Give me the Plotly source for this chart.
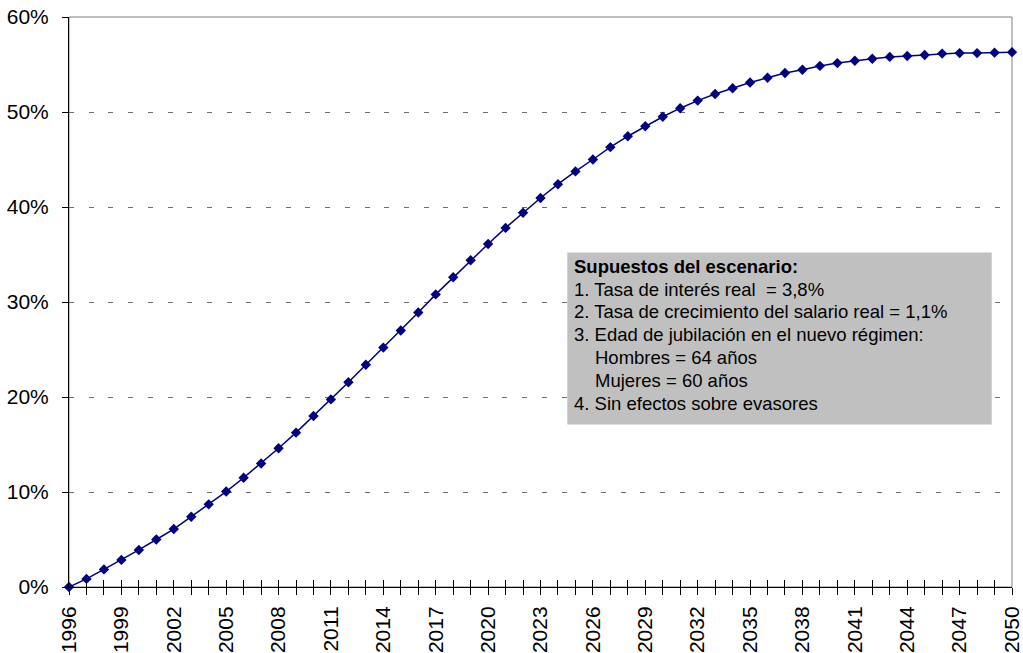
import plotly.graph_objects as go

years = list(range(1996, 2051))
values = [
    0.0, 0.85, 1.85, 2.85, 3.9, 5.0, 6.1, 7.4, 8.7, 10.05,
    11.5, 13.0, 14.6, 16.25, 18.0, 19.75, 21.55, 23.4, 25.2, 27.0,
    28.9, 30.8, 32.6, 34.4, 36.1, 37.8, 39.4, 40.95, 42.4, 43.75,
    45.0, 46.3, 47.45, 48.5, 49.5, 50.4, 51.2, 51.9, 52.5, 53.1,
    53.6, 54.1, 54.45, 54.85, 55.15, 55.4, 55.6, 55.8, 55.9, 56.0,
    56.15, 56.2, 56.2, 56.25, 56.3,
]
x_tick_labels = list(range(1996, 2051, 3))
y_ticks = [0, 10, 20, 30, 40, 50, 60]
y_tick_labels = ["0%", "10%", "20%", "30%", "40%", "50%", "60%"]
note_lines = [
    "<b>Supuestos del escenario:</b>",
    "1. Tasa de interés real  = 3,8%",
    "2. Tasa de crecimiento del salario real = 1,1%",
    "3. Edad de jubilación en el nuevo régimen:",
    "Hombres = 64 años",
    "Mujeres = 60 años",
    "4. Sin efectos sobre evasores",
]
note_indent = [0, 0, 0, 0, 1, 1, 0]

W, H = 1023, 653
L, R, T, B = 69, 11, 16.5, 66
pw, ph = W - L - R, H - T - B
FONT = "Liberation Sans, Arial, sans-serif"

def px_x(p):
    return (p - L) / pw

def px_y(p):
    return (H - B - p) / ph

fig = go.Figure()
fig.add_trace(go.Scatter(
    x=years, y=values, mode="lines+markers",
    line=dict(color="#000080", width=1.5),
    marker=dict(symbol="diamond", size=8, color="#000080"),
    cliponaxis=False, showlegend=False, hoverinfo="x+y",
))
fig.add_trace(go.Scatter(
    x=years, y=values, mode="none", xaxis="x2",
    showlegend=False, hoverinfo="skip",
))

fig.update_layout(
    width=W, height=H,
    margin=dict(l=L, r=R, t=T, b=B, pad=0, autoexpand=False),
    paper_bgcolor="white", plot_bgcolor="white",
    font=dict(family=FONT, size=21, color="black"),
    xaxis=dict(
        range=[1996, 2050], tickmode="array", tickvals=x_tick_labels,
        ticktext=[str(v) for v in x_tick_labels], tickangle=-90,
        ticks="outside", ticklen=7, tickcolor="black", tickwidth=1,
        minor=dict(tick0=1996, dtick=1, ticks="outside", ticklen=7,
                   tickcolor="black", tickwidth=1, showgrid=False),
        showline=True, linecolor="black", linewidth=1,
        showgrid=False, zeroline=False, automargin=False,
        ticklabelstandoff=3,
        tickfont=dict(family=FONT, size=21, color="black"),
    ),
    xaxis2=dict(
        range=[1996, 2050], overlaying="x", anchor="y", side="bottom",
        tick0=1996, dtick=1, ticks="inside", ticklen=7, tickcolor="black",
        tickwidth=1, showticklabels=False, showline=False,
        showgrid=False, zeroline=False,
    ),
    yaxis=dict(
        range=[0, 60], tickmode="array", tickvals=y_ticks,
        ticktext=y_tick_labels, ticks="outside", ticklen=6, tickcolor="black",
        showline=True, linecolor="black", linewidth=1,
        showgrid=True, gridcolor="#6e6e6e", gridwidth=1,
        griddash="5px,14.7px", zeroline=False, automargin=False,
        ticklabelstandoff=9,
        tickfont=dict(family=FONT, size=21, color="black"),
    ),
)

# plot-area frame (top / right)
fig.add_shape(type="rect", xref="paper", yref="paper", x0=0, x1=1, y0=0, y1=1,
              line=dict(color="#808080", width=1), layer="below")

# assumptions box
fig.add_shape(type="rect", xref="paper", yref="paper",
              x0=px_x(567.3), x1=px_x(991.7), y0=px_y(424.3), y1=px_y(252.3),
              fillcolor="#C0C0C0", line=dict(width=0), layer="above")

first_c, step = 266.0, 22.83
for i, (txt, ind) in enumerate(zip(note_lines, note_indent)):
    fig.add_annotation(
        text=txt, xref="paper", yref="paper",
        x=px_x(571.5 + 21 * ind), y=px_y(first_c + i * step),
        xanchor="left", yanchor="middle", showarrow=False,
        font=dict(family=FONT, size=18.5, color="black"),
    )

fig.write_html("out.html")
